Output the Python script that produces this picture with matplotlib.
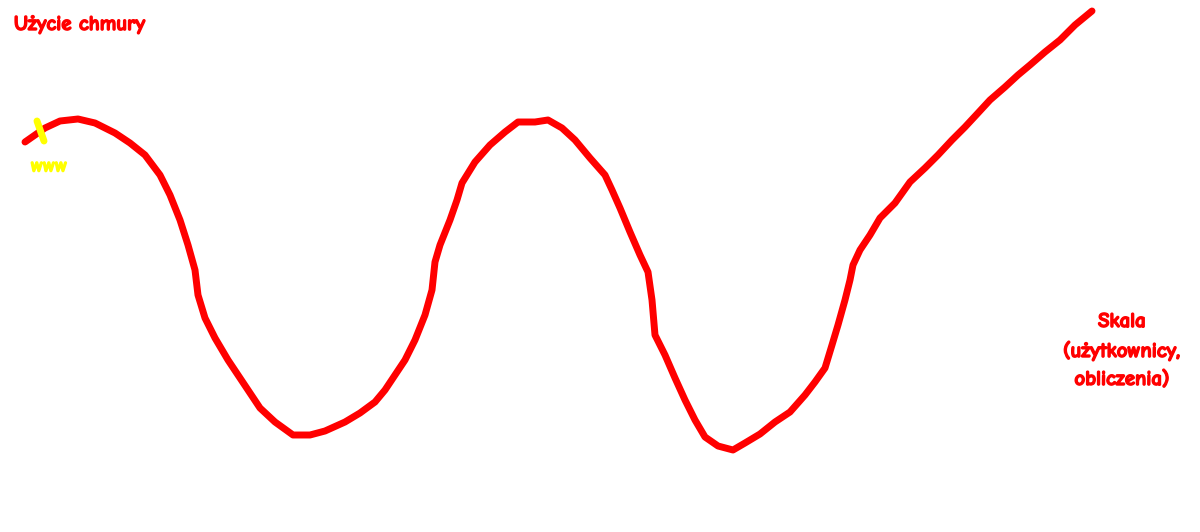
import matplotlib
matplotlib.use("Agg")
import matplotlib.pyplot as plt
import matplotlib.patheffects as pe

# Hand-drawn curve, read in picture coordinates (x right, y down)
curve_x = [25, 35, 45, 60, 78, 95, 115, 130, 145, 160, 170, 180, 188, 195, 198, 205, 215, 228, 240, 250,
           260, 275, 293, 310, 325, 345, 360, 375, 385, 395, 405, 415, 425, 432, 435, 440, 450, 457, 462, 475,
           490, 505, 518, 535, 548, 562, 575, 590, 605, 612, 620, 630, 640, 648, 652, 655, 665, 675, 685, 695,
           705, 718, 733, 745, 760, 775, 790, 805, 815, 825, 832, 838, 845, 850, 853, 860, 870, 880, 895, 910,
           925, 938, 952, 965, 978, 990, 1005, 1018, 1030, 1045, 1060, 1075, 1092]
curve_y = [142, 135, 128, 121, 119, 123, 133, 143, 155, 175, 195, 220, 245, 270, 295, 318, 338, 360, 378, 393,
           408, 422, 435, 435, 431, 422, 413, 402, 390, 375, 360, 340, 315, 290, 262, 245, 220, 200, 183, 162,
           145, 132, 122, 122, 120, 128, 140, 158, 175, 190, 208, 232, 255, 272, 300, 335, 355, 378, 400, 420,
           437, 446, 450, 443, 434, 422, 412, 395, 382, 368, 345, 325, 300, 280, 265, 250, 235, 218, 203, 182,
           168, 155, 140, 127, 113, 100, 87, 75, 65, 52, 40, 25, 11]

marker_x = [37, 44]
marker_y = [121, 141]

title_text = "Użycie chmury"
marker_label = "www"
axis_label = ["Skala", "(użytkownicy,", "obliczenia)"]

fig = plt.figure(figsize=(12, 5.32), dpi=100)
ax = fig.add_axes([0, 0, 1, 1])
ax.set_xlim(0, 1200)
ax.set_ylim(532, 0)
ax.axis("off")

ax.plot(curve_x, curve_y, color="#ff0000", lw=5, solid_capstyle="round", solid_joinstyle="round")
ax.plot(marker_x, marker_y, color="#ffff00", lw=5, solid_capstyle="round")

font = ["Comic Neue", "Lato", "DejaVu Sans"]
red_fx = [pe.withStroke(linewidth=1.0, foreground="#ff0000")]
yel_fx = [pe.withStroke(linewidth=1.0, foreground="#ffff00")]
ax.text(14, 25, title_text, color="#ff0000", fontsize=15, fontweight="bold", ha="left", va="center",
        family=font, path_effects=red_fx)
ax.text(31, 167, marker_label, color="#ffff00", fontsize=14, fontweight="bold", ha="left", va="center",
        family=font, path_effects=yel_fx)
for i, line in enumerate(axis_label):
    ax.text(1122, 322 + 29 * i, line, color="#ff0000", fontsize=15, fontweight="bold", ha="center",
            va="center", family=font, path_effects=red_fx)

fig.savefig("out.png", dpi=100)
